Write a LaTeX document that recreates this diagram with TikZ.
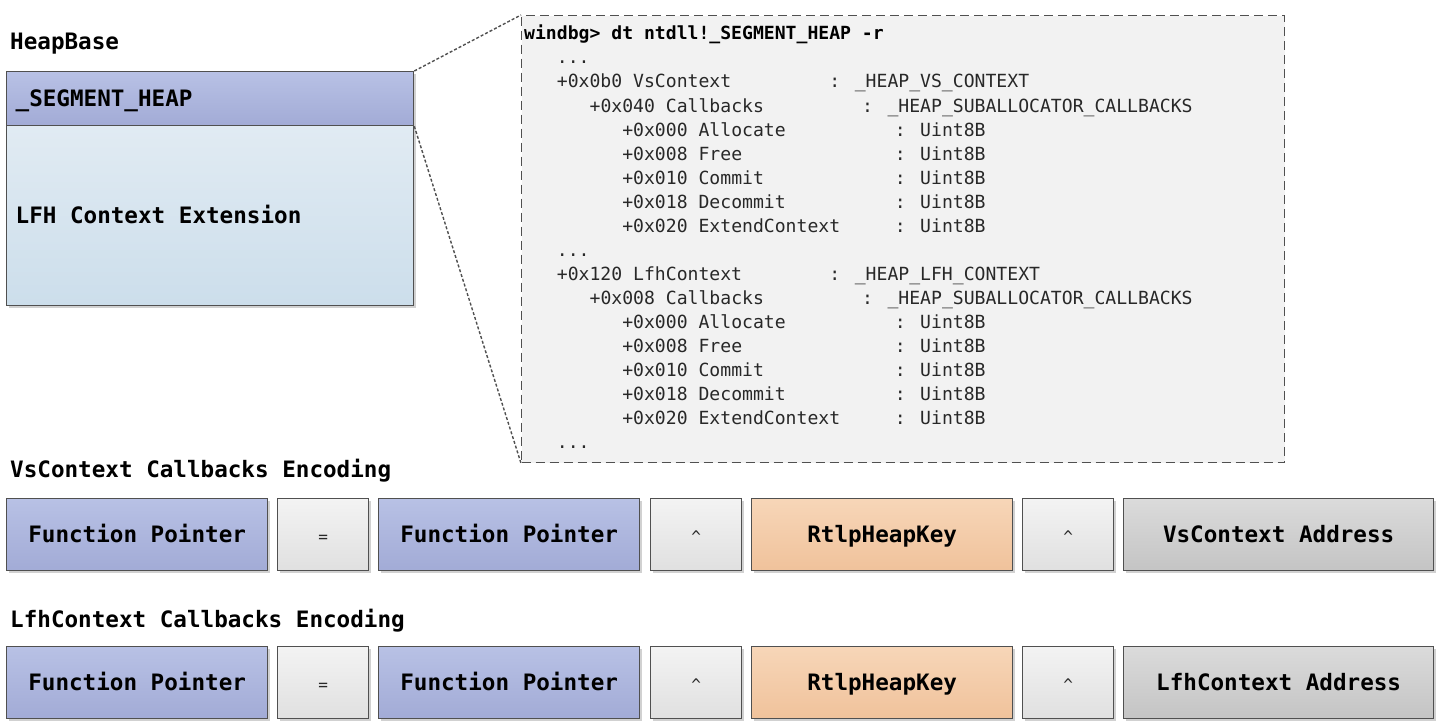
\documentclass[tikz,border=0pt]{standalone}
\usepackage{fontspec}
\usetikzlibrary{shadows}
\newfontfamily\dvmono{DejaVu Sans Mono}
\newcommand\codefont{\dvmono\fontsize{18.1}{22}\selectfont}
\newcommand\labfont{\dvmono\bfseries\fontsize{22.6}{27}\selectfont}
\newcommand\opfont{\dvmono\fontsize{16}{20}\selectfont}
\definecolor{bordergray}{HTML}{505050}
\definecolor{fpTop}{RGB}{184,193,229}
\definecolor{fpBot}{RGB}{162,171,214}
\definecolor{bodyTop}{RGB}{225,235,243}
\definecolor{bodyBot}{RGB}{204,222,235}
\definecolor{opTop}{RGB}{243,243,243}
\definecolor{opBot}{RGB}{224,224,224}
\definecolor{keyTop}{RGB}{247,214,184}
\definecolor{keyBot}{RGB}{240,194,155}
\definecolor{adTop}{RGB}{219,219,219}
\definecolor{adBot}{RGB}{196,196,196}
\definecolor{codebg}{RGB}{242,242,242}
\definecolor{codetxt}{RGB}{40,40,40}
\begin{document}
\begin{tikzpicture}[x=1pt,y=-1pt,
  box/.style={draw=bordergray, line width=1.3pt, inner sep=0pt,
    general shadow={fill=black!18, shadow xshift=2.5pt, shadow yshift=-2.5pt},
    anchor=north west, text height=16.5pt, text depth=0pt},
  fp/.style={box, top color=fpTop, bottom color=fpBot, font=\labfont,
    minimum width=261pt, minimum height=72pt},
  op/.style={box, top color=opTop, bottom color=opBot, font=\opfont, text=codetxt,
    minimum width=91pt, minimum height=72pt},
  key/.style={box, top color=keyTop, bottom color=keyBot, font=\labfont,
    minimum width=261pt, minimum height=72pt},
  addr/.style={box, top color=adTop, bottom color=adBot, font=\labfont,
    minimum width=310pt, minimum height=72pt},
  heapbox/.style={box, font=\labfont, minimum width=407pt, inner xsep=9pt},
  lab/.style={anchor=base west, inner sep=0pt, font=\labfont},
  code/.style={anchor=base west, inner sep=0pt, font=\codefont, text=codetxt},
  codebox/.style={draw=bordergray, line width=1.2pt, dash pattern=on 9pt off 5pt,
    fill=codebg, anchor=north west, inner sep=0pt},
  conn/.style={draw=bordergray, line width=1.4pt, dash pattern=on 3pt off 2pt}
]
\useasboundingbox (0,0) rectangle (1438,725);

% code listing box
\node[codebox, minimum width=763pt, minimum height=447pt] (code) at (521,15) {};

% heap structure
\node[lab] (heapbase) at (10,50) {HeapBase};
\node[heapbox, top color=fpTop, bottom color=fpBot, minimum height=54pt] (hdr) at (6,71) {\makebox[389pt][l]{\_SEGMENT\_HEAP}};
\node[heapbox, top color=bodyTop, bottom color=bodyBot, minimum height=180pt] (body) at (6,125) {\makebox[389pt][l]{LFH Context Extension}};

\draw[conn] (hdr.north east) -- (code.north west);
\draw[conn] (hdr.south east) -- (code.south west);

% listing text
\node[code, font=\codefont\bfseries, text=black] (t0) at (524,40) {windbg> dt ntdll!\_SEGMENT\_HEAP -r};
\node[code] (t1) at (556.7,64) {...};
\node[code] (t2) at (556.7,88) {+0x0b0 VsContext};
\node[code] (t2r) at (829.2,88) {: \_HEAP\_VS\_CONTEXT};
\node[code] (t3) at (589.4,112) {+0x040 Callbacks};
\node[code] (t3r) at (861.9,112) {: \_HEAP\_SUBALLOCATOR\_CALLBACKS};
\node[code] (t4) at (622.1,136) {+0x000 Allocate};
\node[code] (t4r) at (894.6,136) {: Uint8B};
\node[code] (t5) at (622.1,160) {+0x008 Free};
\node[code] (t5r) at (894.6,160) {: Uint8B};
\node[code] (t6) at (622.1,184) {+0x010 Commit};
\node[code] (t6r) at (894.6,184) {: Uint8B};
\node[code] (t7) at (622.1,208) {+0x018 Decommit};
\node[code] (t7r) at (894.6,208) {: Uint8B};
\node[code] (t8) at (622.1,232) {+0x020 ExtendContext};
\node[code] (t8r) at (894.6,232) {: Uint8B};
\node[code] (t9) at (556.7,256) {...};
\node[code] (t10) at (556.7,280) {+0x120 LfhContext};
\node[code] (t10r) at (829.2,280) {: \_HEAP\_LFH\_CONTEXT};
\node[code] (t11) at (589.4,304) {+0x008 Callbacks};
\node[code] (t11r) at (861.9,304) {: \_HEAP\_SUBALLOCATOR\_CALLBACKS};
\node[code] (t12) at (622.1,328) {+0x000 Allocate};
\node[code] (t12r) at (894.6,328) {: Uint8B};
\node[code] (t13) at (622.1,352) {+0x008 Free};
\node[code] (t13r) at (894.6,352) {: Uint8B};
\node[code] (t14) at (622.1,376) {+0x010 Commit};
\node[code] (t14r) at (894.6,376) {: Uint8B};
\node[code] (t15) at (622.1,400) {+0x018 Decommit};
\node[code] (t15r) at (894.6,400) {: Uint8B};
\node[code] (t16) at (622.1,424) {+0x020 ExtendContext};
\node[code] (t16r) at (894.6,424) {: Uint8B};
\node[code] (t17) at (556.7,448) {...};

% VsContext encoding
\node[lab] (vslab) at (10,477) {VsContext Callbacks Encoding};
\node[fp] (v1) at (6,498) {Function Pointer};
\node[op] (v2) at (277,498) {=};
\node[fp] (v3) at (378,498) {Function Pointer};
\node[op] (v4) at (650,498) {\textasciicircum};
\node[key] (v5) at (751,498) {RtlpHeapKey};
\node[op] (v6) at (1022,498) {\textasciicircum};
\node[addr] (v7) at (1123,498) {VsContext Address};

% LfhContext encoding
\node[lab] (lfhlab) at (10,627) {LfhContext Callbacks Encoding};
\node[fp] (l1) at (6,646) {Function Pointer};
\node[op] (l2) at (277,646) {=};
\node[fp] (l3) at (378,646) {Function Pointer};
\node[op] (l4) at (650,646) {\textasciicircum};
\node[key] (l5) at (751,646) {RtlpHeapKey};
\node[op] (l6) at (1022,646) {\textasciicircum};
\node[addr] (l7) at (1123,646) {LfhContext Address};
\end{tikzpicture}
\end{document}
